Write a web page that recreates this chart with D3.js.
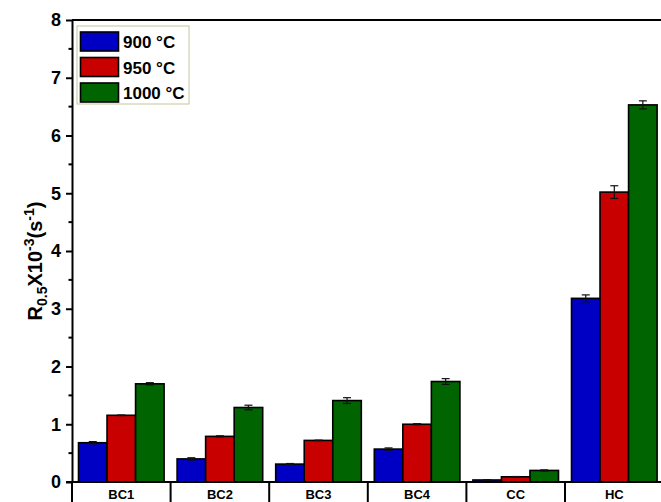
<!DOCTYPE html>
<html>
<head>
<meta charset="utf-8">
<script src="https://cdn.jsdelivr.net/npm/d3@7"></script>
<style>
  html, body { margin: 0; padding: 0; background: #fff; }
  svg { display: block; font-family: Arial, "Liberation Sans", sans-serif; }
</style>
</head>
<body>
<svg id="chart" width="661" height="502"></svg>
<script>
// Samples and annealing temperatures
const categories = ["BC1", "BC2", "BC3", "BC4", "CC", "HC"];
const seriesNames = ["900 °C", "950 °C", "1000 °C"];
const seriesColors = ["#0000c4", "#c80000", "#006400"];

// R0.5 (x10^-3 s^-1) per temperature
const r900  = [0.68, 0.40, 0.31, 0.57, 0.035, 3.18];
const r950  = [1.155, 0.79, 0.72, 1.00, 0.09, 5.02];
const r1000 = [1.70, 1.29, 1.41, 1.74, 0.20, 6.53];

// Error bar half-widths
const e900  = [0.02, 0.02, 0.01, 0.02, 0.005, 0.06];
const e950  = [0.005, 0.01, 0.005, 0.01, 0.005, 0.11];
const e1000 = [0.02, 0.04, 0.05, 0.05, 0.01, 0.07];

const yTicks = [0, 1, 2, 3, 4, 5, 6, 7, 8];

const values = [r900, r950, r1000];
const errors = [e900, e950, e1000];

const svg = d3.select("#chart");
const plotLeft = 72, plotTop = 20, plotBottom = 482;
const catWidth = 98.6;
const plotRight = plotLeft + catWidth * categories.length;

const x = d3.scaleBand().domain(categories).range([plotLeft, plotRight]).paddingInner(0).paddingOuter(0);
const xs = d3.scaleBand().domain(d3.range(3)).range([6.5, catWidth - 6.5]).padding(0);
const y = d3.scaleLinear().domain([0, 8]).range([plotBottom, plotTop]);

// Bars
const groups = svg.append("g").selectAll("g")
  .data(categories)
  .join("g")
  .attr("transform", d => `translate(${x(d)},0)`);

groups.each(function(cat, ci) {
  const g = d3.select(this);
  for (let s = 0; s < 3; s++) {
    const v = values[s][ci];
    g.append("rect")
      .attr("x", xs(s))
      .attr("y", y(v))
      .attr("width", xs.bandwidth())
      .attr("height", y(0) - y(v))
      .attr("fill", seriesColors[s])
      .attr("stroke", "#000")
      .attr("stroke-width", 1.6);
  }
  for (let s = 0; s < 3; s++) {
    const v = values[s][ci], e = errors[s][ci];
    const cx = xs(s) + xs.bandwidth() / 2;
    const eg = g.append("g").attr("stroke", "#111").attr("stroke-width", 1.2);
    eg.append("line").attr("x1", cx).attr("x2", cx).attr("y1", y(v + e)).attr("y2", y(v - e));
    eg.append("line").attr("x1", cx - 4).attr("x2", cx + 4).attr("y1", y(v + e)).attr("y2", y(v + e));
    eg.append("line").attr("x1", cx - 4).attr("x2", cx + 4).attr("y1", y(v - e)).attr("y2", y(v - e));
  }
});

// Y axis with major and minor ticks
const yAxis = d3.axisLeft(y).tickValues(yTicks).tickSize(6).tickSizeOuter(0).tickFormat(d3.format("d"));
const yg = svg.append("g").attr("transform", `translate(${plotLeft},0)`).call(yAxis);
yg.select(".domain").attr("stroke", "#000").attr("stroke-width", 2);
yg.selectAll(".tick line").attr("stroke", "#000").attr("stroke-width", 2);
yg.selectAll(".tick text").attr("x", -11).attr("font-size", 18).attr("font-weight", "bold").attr("fill", "#000")
  .attr("font-family", "Arial, 'Liberation Sans', sans-serif");
const minor = d3.range(0.5, 8, 1);
svg.append("g").selectAll("line").data(minor).join("line")
  .attr("x1", plotLeft - 3.5).attr("x2", plotLeft).attr("y1", d => y(d)).attr("y2", d => y(d))
  .attr("stroke", "#000").attr("stroke-width", 2);

// Top frame line
svg.append("line").attr("x1", plotLeft).attr("x2", plotRight).attr("y1", plotTop).attr("y2", plotTop)
  .attr("stroke", "#000").attr("stroke-width", 2);

// X axis: separators between categories running below the baseline
svg.append("line").attr("x1", plotLeft - 6).attr("x2", plotRight).attr("y1", plotBottom).attr("y2", plotBottom)
  .attr("stroke", "#000").attr("stroke-width", 2.2);
const seps = categories.map(c => x(c)).concat([plotRight]);
svg.append("g").selectAll("line").data(seps).join("line")
  .attr("x1", d => d).attr("x2", d => d).attr("y1", plotBottom).attr("y2", 502)
  .attr("stroke", "#000").attr("stroke-width", 2);
svg.append("g").selectAll("text").data(categories).join("text")
  .attr("x", d => x(d) + x.bandwidth() / 2)
  .attr("y", 499)
  .attr("text-anchor", "middle")
  .attr("font-size", 13).attr("font-weight", "bold").attr("fill", "#000")
  .text(d => d);

// Y axis title
const title = svg.append("text")
  .attr("transform", `translate(42,261) rotate(-90)`)
  .attr("text-anchor", "middle")
  .attr("font-size", 20).attr("font-weight", "bold").attr("fill", "#000");
title.append("tspan").text("R");
title.append("tspan").attr("font-size", 14).attr("dy", 5).text("0.5");
title.append("tspan").attr("dy", -5).text("X10");
title.append("tspan").attr("font-size", 14).attr("dy", -8).text("-3");
title.append("tspan").attr("dy", 8).text("(s");
title.append("tspan").attr("font-size", 14).attr("dy", -8).text("-1");
title.append("tspan").attr("dy", 8).text(")");

// Legend
const lg = svg.append("g").attr("transform", "translate(77,26)");
lg.append("rect").attr("x", 0).attr("y", 0).attr("width", 112).attr("height", 78)
  .attr("fill", "#fff").attr("stroke", "#c4c49a").attr("stroke-width", 1);
seriesNames.forEach((name, i) => {
  const row = lg.append("g").attr("transform", `translate(0,${6 + i * 25.5})`);
  row.append("rect").attr("x", 3.5).attr("y", 0).attr("width", 38).attr("height", 19)
    .attr("fill", seriesColors[i]).attr("stroke", "#000").attr("stroke-width", 1.6);
  row.append("text").attr("x", 46).attr("y", 16)
    .attr("font-size", 17).attr("font-weight", "bold").attr("fill", "#000").text(name);
});
</script>
</body>
</html>
